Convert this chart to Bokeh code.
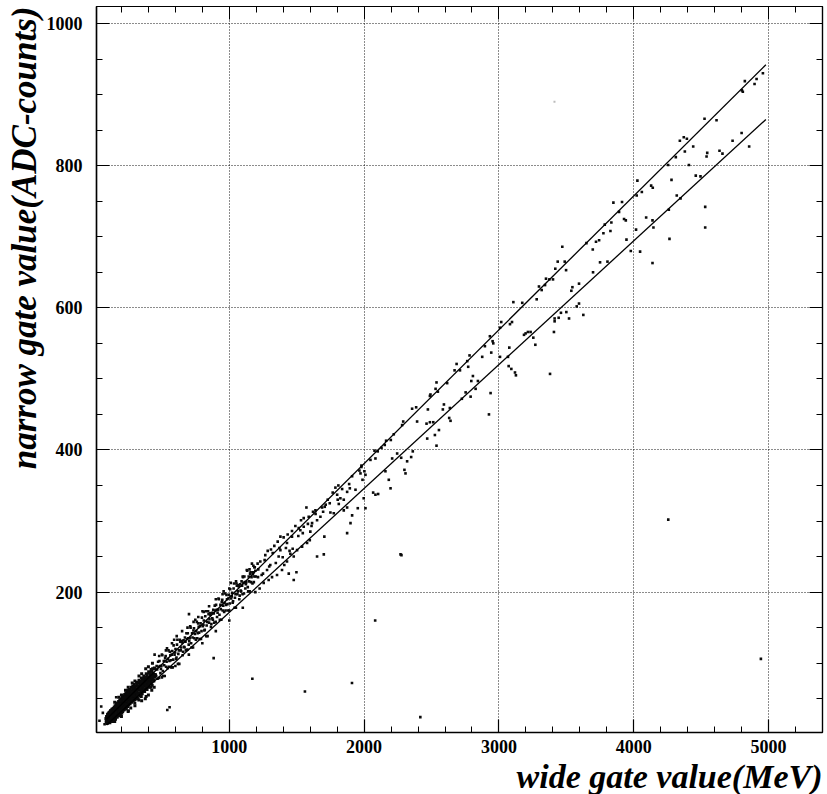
from bokeh.plotting import figure
from bokeh.models import Range1d, FixedTicker, LinearAxis, Title, ColumnDataSource
from bokeh.embed import file_html
from bokeh.resources import INLINE

# ---------------- data ----------------
x_ticks = [1000, 2000, 3000, 4000, 5000]
x_minor = [200, 400, 600, 800, 1200, 1400, 1600, 1800, 2200, 2400, 2600, 2800,
           3200, 3400, 3600, 3800, 4200, 4400, 4600, 4800, 5200, 5400]
y_ticks = [200, 400, 600, 800, 1000]
y_minor = [50, 100, 150, 250, 300, 350, 450, 500, 550, 650, 700, 750, 850, 900, 950]

# two reference lines (wide gate -> narrow gate)
line_x = [90, 4980]
upper_y = [21, 942]
lower_y = [13, 865]

# dense cluster at low energy (several interleaved readings)
core_x = [85, 87, 90, 92, 94, 96, 97, 99, 101, 102, 104, 105, 107, 108, 110, 111, 113, 114, 116, 117,
          119, 120, 122, 123, 125, 126, 128, 129, 131, 132, 134, 135, 137, 138, 140, 141, 143, 144, 146, 147,
          149, 150, 152, 153, 155, 156, 158, 159, 161, 162, 164, 165, 167, 168, 170, 171, 173, 174, 176, 177,
          179, 180, 182, 183, 185, 186, 188, 189, 191, 192, 194, 195, 197, 198, 200, 201, 203, 204, 206, 207,
          209, 210, 212, 213, 215, 216, 218, 219, 221, 222, 224, 225, 227, 228, 230, 231, 233, 234, 236, 237,
          239, 240, 242, 243, 245, 246, 248, 249, 251, 252, 254, 255, 257, 258, 260, 262, 264, 266, 268, 270,
          272, 274, 276, 278, 280, 282, 284, 286, 288, 290, 292, 294, 296, 298, 300, 303, 306, 309, 312, 315,
          318, 321, 324, 327, 330, 333, 336, 339, 342, 345, 348, 351, 354, 357, 360, 363, 366, 369, 372, 375,
          378, 381, 384, 387, 390, 393, 396, 399, 402, 405, 408, 411, 414, 417, 420, 424, 428, 432, 436, 440,
          444, 448]
core_y = [22, 17, 25, 19, 15, 23, 28, 20, 17, 26, 22, 30, 18, 24, 27, 21, 31, 16, 25, 29,
          22, 19, 33, 27, 24, 30, 20, 35, 26, 23, 31, 28, 18, 36, 25, 32, 29, 22, 38, 27,
          33, 24, 30, 40, 28, 21, 35, 31, 26, 42, 33, 29, 37, 24, 44, 31, 27, 39, 35, 29,
          46, 33, 26, 41, 37, 31, 48, 35, 28, 43, 39, 33, 50, 37, 30, 45, 41, 35, 52, 39,
          32, 47, 43, 37, 54, 41, 34, 49, 45, 38, 56, 42, 35, 51, 47, 40, 58, 44, 37, 53,
          49, 42, 60, 46, 39, 55, 51, 44, 62, 48, 41, 57, 53, 46, 63, 50, 43, 59, 55, 48,
          66, 52, 45, 61, 57, 50, 68, 54, 47, 63, 59, 52, 70, 56, 49, 65, 61, 54, 73, 59,
          51, 68, 64, 57, 76, 62, 54, 71, 67, 60, 79, 65, 57, 74, 70, 63, 82, 68, 60, 77,
          73, 66, 85, 71, 63, 80, 76, 69, 88, 74, 66, 83, 79, 72, 91, 77, 69, 86, 82, 75,
          93, 80]
core2_x = [88, 93, 98, 103, 106, 109, 112, 118, 121, 124, 127, 130, 133, 136, 139, 142, 145, 148, 151, 154,
           157, 160, 163, 166, 169, 172, 175, 178, 181, 184, 187, 190, 193, 196, 199, 202, 205, 208, 211, 214,
           217, 220, 223, 226, 229, 232, 235, 238, 241, 244, 247, 250, 253, 256, 259, 263, 267, 271, 275, 279,
           283, 287, 291, 295, 299, 304, 308, 313, 317, 322, 326, 331, 335, 340, 344, 349, 353, 358, 362, 367,
           371, 376, 380, 385, 389, 394, 398, 403, 407, 412, 416, 421, 425, 430, 434, 439, 443, 447]
core2_y = [20, 24, 16, 21, 27, 19, 24, 27, 23, 18, 28, 31, 25, 21, 33, 27, 31, 24, 36, 33,
           27, 38, 30, 25, 35, 40, 32, 27, 38, 44, 34, 40, 30, 45, 42, 36, 48, 34, 40, 50,
           45, 38, 47, 53, 41, 49, 43, 56, 47, 52, 42, 58, 53, 45, 60, 55, 47, 60, 57, 50,
           64, 58, 50, 66, 61, 53, 68, 63, 56, 72, 65, 58, 74, 64, 70, 62, 77, 67, 73, 64,
           80, 70, 76, 68, 84, 73, 79, 70, 86, 76, 82, 73, 89, 79, 85, 76, 92, 84]
core3_x = [95, 107, 119, 131, 143, 155, 167, 179, 191, 203, 215, 227, 239, 251, 263, 275, 287, 299, 311, 323,
           335, 347, 359, 371, 383, 395, 407, 419, 431, 443,
           101, 113, 125, 137, 149, 161, 173, 185, 197, 209, 221, 233, 245, 257, 269, 281, 293, 305, 317, 329,
           341, 353, 365, 377, 389, 401, 413, 425, 437,
           150, 180, 200, 230, 250, 280, 300, 330, 350, 380, 400, 430,
           150, 200, 250, 300, 350, 400]
core3_y = [25, 19, 33, 26, 21, 37, 34, 31, 47, 30, 44, 52, 41, 33, 55, 50, 65, 44, 60, 50,
           66, 53, 78, 63, 53, 79, 72, 66, 92, 66,
           25, 31, 24, 19, 35, 32, 42, 29, 41, 33, 47, 36, 57, 45, 37, 59, 54, 50, 71, 48,
           65, 74, 60, 50, 77, 70, 87, 62, 81,
           45, 52, 55, 62, 66, 72, 75, 82, 85, 92, 95, 100,
           18, 25, 32, 40, 47, 55]

# moderately dense band 450-1200 (interleaved readings)
mid_x = [451, 458, 465, 472, 479, 486, 493, 500, 507, 514, 521, 528, 535, 542, 549, 556, 563, 570, 577, 584,
         591, 598, 605, 612, 619, 626, 633, 640, 647, 654, 661, 668, 675, 682, 689, 696, 703, 710, 717, 724,
         731, 738, 745, 752, 759, 766, 773, 780, 787, 794, 801, 808, 815, 822, 829, 836, 843, 850, 857, 864,
         871, 878, 885, 892, 899, 906, 913, 920, 927, 934, 941, 948, 955, 962, 969, 976, 983, 990, 997, 1004,
         1011, 1018, 1025, 1032, 1039, 1046, 1053, 1060, 1067, 1074, 1081, 1088, 1095, 1102, 1109, 1116, 1123,
         1130, 1137, 1144, 1151, 1158, 1165, 1172, 1179, 1186, 1193]
mid_y = [92, 82, 91, 102, 79, 96, 92, 112, 89, 103, 82, 110, 102, 93, 118, 103, 111, 94, 117, 105,
         133, 115, 106, 126, 99, 118, 133, 118, 131, 111, 132, 122, 130, 142, 119, 135, 131, 152, 128, 142,
         122, 149, 141, 133, 158, 142, 151, 134, 156, 145, 173, 154, 146, 166, 138, 158, 173, 157, 170, 151,
         171, 161, 170, 181, 158, 175, 171, 191, 168, 182, 161, 189, 181, 172, 198, 182, 190, 174, 196, 184,
         213, 194, 185, 205, 178, 197, 212, 197, 210, 190, 211, 201, 209, 221, 198, 214, 211,
         231, 207, 222, 201, 228, 221, 212, 237, 222, 230]
mid2_x = [454, 461, 468, 475, 482, 489, 496, 503, 510, 517, 524, 531, 538, 545, 552, 559, 566, 573, 580, 587,
          594, 601, 608, 615, 622, 629, 636, 643, 650, 657, 664, 671, 678, 685, 692, 699, 706, 713, 720, 727,
          734, 741, 748, 755, 762, 769, 776, 783, 790, 797, 804, 811, 818, 825, 832, 839, 846, 853, 860, 867,
          874, 881, 888, 895, 902, 909, 916, 923, 930, 937, 944, 951, 958, 965, 972, 979, 986, 993, 1000, 1007,
          1014, 1021, 1028, 1035, 1042, 1049, 1056, 1063, 1070, 1077, 1084, 1091, 1098, 1105, 1112, 1119, 1126,
          1133, 1140, 1147, 1154, 1161, 1168, 1175, 1182, 1189, 1196]
mid2_y = [84, 96, 78, 95, 103, 86, 96, 111, 82, 97, 107, 95, 121, 106, 95, 116, 104, 112, 94, 125,
          112, 120, 108, 133, 113, 99, 130, 122, 129, 116, 123, 136, 118, 134, 142, 126, 135, 150, 122, 136,
          146, 135, 161, 145, 135, 156, 143, 152, 134, 164, 152, 160, 147, 173, 153, 138, 169, 162, 168, 155,
          163, 175, 157, 174, 182, 165, 175, 190, 161, 176, 186, 174, 201, 185, 174, 196, 183, 191, 174, 204,
          191, 199, 187, 212, 192, 178, 209, 201, 208, 195, 202, 215, 197, 213, 222, 205, 214,
          230, 201, 215, 226, 214, 240, 225, 214, 235, 222]
mid3_x = [480, 530, 575, 610, 650, 690, 735, 770, 810, 850, 900, 950, 1000, 1050, 1100, 1150,
          500, 600, 700, 800, 900, 1000, 1100]
mid3_y = [110, 118, 128, 138, 145, 150, 158, 165, 172, 180, 190, 197, 205, 215, 222, 232,
          80, 96, 112, 128, 145, 160, 178]

# band between 1200 and 2450
band_x = [2386, 2356, 2393, 2290, 2282, 2220, 2198, 2163, 2153, 2129, 2101, 2077, 2084, 2047, 1980, 1980,
          1965, 1973, 2002, 2010, 1988, 1911, 1889, 1894, 1874, 1837, 1809, 1787, 1767, 1800, 1804, 1812,
          1730, 1715, 1708, 1688, 1696, 1639, 1621, 1589, 1572, 1552, 1532, 1515, 1490, 1465, 1433, 1403,
          1379, 1359, 1334, 1309, 1285, 1267, 1230, 1210, 1186, 1176, 1824, 1849, 1874, 1911, 1953, 1997,
          2010, 2084, 2104, 2067, 2196, 2183, 2299, 2307, 2319, 2349, 2361, 2245, 2275, 2208, 2158, 1899,
          1874, 1705, 1701, 1651, 1601, 1597, 1577, 1540, 1503, 1478, 1453, 1428, 1408, 1391, 1354, 1317,
          1292, 1255, 1225, 1193, 1498, 1478, 1441, 1379, 1366, 1304, 1280, 1250, 1213, 1428, 1465, 1527,
          1552, 1614, 1651, 1676, 1750, 1775, 1745, 1849, 1936, 2492, 2270,
          1215, 1240, 1262, 1296, 1322, 1345, 1372, 1396, 1420, 1447, 1470, 1512, 1545, 1583, 1610, 1640]
band_y = [460, 458, 440, 440, 435, 422, 414, 413, 407, 403, 398, 399, 388, 386, 378, 376,
          371, 367, 370, 365, 358, 363, 352, 346, 341, 345, 350, 347, 340, 337, 330, 324,
          330, 323, 320, 319, 313, 315, 313, 306, 319, 304, 301, 290, 293, 286, 281, 277,
          278, 271, 265, 260, 258, 252, 243, 240, 235, 228, 332, 315, 319, 308, 318, 332,
          318, 337, 338, 340, 346, 358, 372, 367, 384, 390, 398, 395, 389, 388, 370, 297,
          283, 278, 253, 250, 285, 273, 269, 264, 259, 250, 254, 243, 238, 231, 224, 221,
          217, 213, 205, 200, 228, 217, 226, 259, 250, 238, 231, 226, 221, 269, 278, 287,
          292, 297, 301, 306, 312, 311, 325, 330, 344, 478, 253,
          232, 224, 245, 236, 255, 241, 262, 249, 262, 258, 261, 279, 283, 296, 293, 310]

# sparse points above 2450
high_x = [3470, 3436, 3488, 3418, 3498, 3401, 3374, 3349, 3342, 3297, 3317, 3280, 3545, 3537, 3594, 3577,
          3594, 3500, 3520, 3443, 3413, 3408, 3413, 3460, 3173, 3107, 3082, 3097, 3235, 3215, 3198,
          3255, 3270, 3186, 3077, 3067, 3072, 3092, 3119, 3126, 3008, 3008, 3017, 2953, 2958, 2943, 2933,
          2876, 2896, 2782, 2765, 2772, 2686, 2671, 2711, 2616, 2537, 2547, 2530, 2488, 2473, 2592, 2584,
          2636, 2631, 2641, 2463, 2488, 2513, 2525, 2468, 2555, 2537, 2753, 2844, 2795, 2827, 2790, 2938,
          2926, 2807, 2725,
          4958, 4911, 4896, 4824, 4809, 4802, 4800, 4856, 4733, 4614, 4525, 4636, 4658, 4545, 4540, 4441,
          4394, 4371, 4342, 4379, 4312, 4409, 4255, 4280, 4460, 4495, 4530, 4530, 4319, 4347, 4260, 4265,
          4141, 4129, 4139, 4092, 4146, 4047, 4139, 4060, 4027, 4022, 4017, 3978, 3941, 3928, 3946, 3913,
          3849, 3891, 3834, 3827, 3785, 3775, 3743, 3720, 3696, 3649, 3750, 3805, 3698, 3626]
high_y = [686, 665, 665, 655, 653, 640, 640, 641, 632, 630, 625, 612, 629, 624, 634, 602,
          606, 594, 585, 586, 585, 566, 581, 593, 607, 608, 577, 580, 566, 566, 564,
          558, 548, 562, 544, 531, 518, 514, 509, 505, 531, 572, 580, 553, 550, 537, 560,
          531, 546, 533, 525, 517, 521, 512, 512, 494, 495, 482, 486, 476, 457, 464, 457,
          459, 445, 441, 437, 439, 439, 421, 416, 428, 406, 481, 497, 497, 486, 475, 480,
          450, 504, 472,
          930, 922, 915, 919, 904, 906, 846, 827, 835, 864, 866, 821, 817, 818, 813, 827,
          838, 840, 835, 820, 812, 801, 801, 780, 786, 785, 742, 713, 758, 754, 738, 697,
          769, 772, 723, 727, 713, 679, 663, 763, 779, 758, 710, 680, 723, 725, 696, 749,
          748, 735, 720, 708, 717, 705, 695, 693, 682, 691, 664, 665, 650, 590]

# isolated outliers
out_x = [701, 446, 884, 1171, 540, 557, 50, 37, 161, 62, 75, 1561, 1910, 2417, 2277, 4256, 4943, 3379, 2082]
out_y = [169, 112, 107, 78, 34, 38, 39, 19, 52, 30, 14, 60, 72, 24, 252, 302, 106, 507, 160]
faint_x = [3412]
faint_y = [890]

# ---------------- figure ----------------
SERIF = "Liberation Serif"

p = figure(width=827, height=794, x_range=Range1d(15, 5400), y_range=Range1d(2.4, 1024),
           output_backend="svg", toolbar_location=None,
           min_border_left=96, min_border_right=5, min_border_top=6, min_border_bottom=62,
           background_fill_color="white", border_fill_color="white")

p.outline_line_color = "black"
p.outline_line_width = 1.2

for ax, tk, mn in ((p.xaxis[0], x_ticks, x_minor), (p.yaxis[0], y_ticks, y_minor)):
    ax.ticker = FixedTicker(ticks=tk, minor_ticks=mn)
    ax.axis_line_color = "black"
    ax.axis_line_width = 1.5
    ax.major_tick_in = 13
    ax.major_tick_out = 0
    ax.minor_tick_in = 6
    ax.minor_tick_out = 0
    ax.major_tick_line_color = "black"
    ax.minor_tick_line_color = "black"
    ax.major_tick_line_width = 1.2
    ax.major_label_text_font = SERIF
    ax.major_label_text_font_style = "bold"
    ax.major_label_text_font_size = "18px"
    ax.major_label_text_color = "black"

p.xaxis[0].major_label_standoff = 7
p.yaxis[0].major_label_standoff = 14
p.yaxis[0].major_label_orientation = "horizontal"

for loc, tk, mn in (("above", x_ticks, x_minor), ("right", y_ticks, y_minor)):
    ax = LinearAxis(ticker=FixedTicker(ticks=tk, minor_ticks=mn),
                    major_label_overrides={t: "" for t in tk}, major_label_standoff=0,
                    major_tick_in=13, major_tick_out=0, minor_tick_in=6, minor_tick_out=0,
                    axis_line_color="black", axis_line_width=1.2,
                    major_tick_line_color="black", minor_tick_line_color="black")
    p.add_layout(ax, loc)

for g in (p.xgrid[0], p.ygrid[0]):
    g.grid_line_color = "black"
    g.grid_line_dash = "1 2"
    g.grid_line_width = 1
    g.grid_line_alpha = 0.9

# scatter points
core_src = ColumnDataSource(data=dict(x=core_x + core2_x + core3_x, y=core_y + core2_y + core3_y))
p.scatter("x", "y", source=core_src, marker="square", size=3, fill_color="#0a0a0a", line_color=None)

rest_x = mid_x + mid2_x + mid3_x + band_x + high_x + out_x
rest_y = mid_y + mid2_y + mid3_y + band_y + high_y + out_y
src = ColumnDataSource(data=dict(x=rest_x, y=rest_y))
p.scatter("x", "y", source=src, marker="square", size=2.6, fill_color="#0a0a0a", line_color=None)
p.scatter(faint_x, faint_y, marker="square", size=2, fill_color="#bbbbbb", line_color=None)

# reference lines
p.line(line_x, upper_y, line_color="black", line_width=1.3)
p.line(line_x, lower_y, line_color="black", line_width=1.3)

# axis titles
p.add_layout(Title(text="wide gate value(MeV)", align="right", text_font=SERIF,
                   text_font_style="bold italic", text_font_size="34px", text_color="black",
                   standoff=0, offset=0), "below")
p.add_layout(Title(text="narrow gate value(ADC-counts)", align="right", text_font=SERIF,
                   text_font_style="bold italic", text_font_size="35px", text_color="black",
                   standoff=0, offset=0), "left")

open("out.html", "w").write(file_html(p, INLINE))
